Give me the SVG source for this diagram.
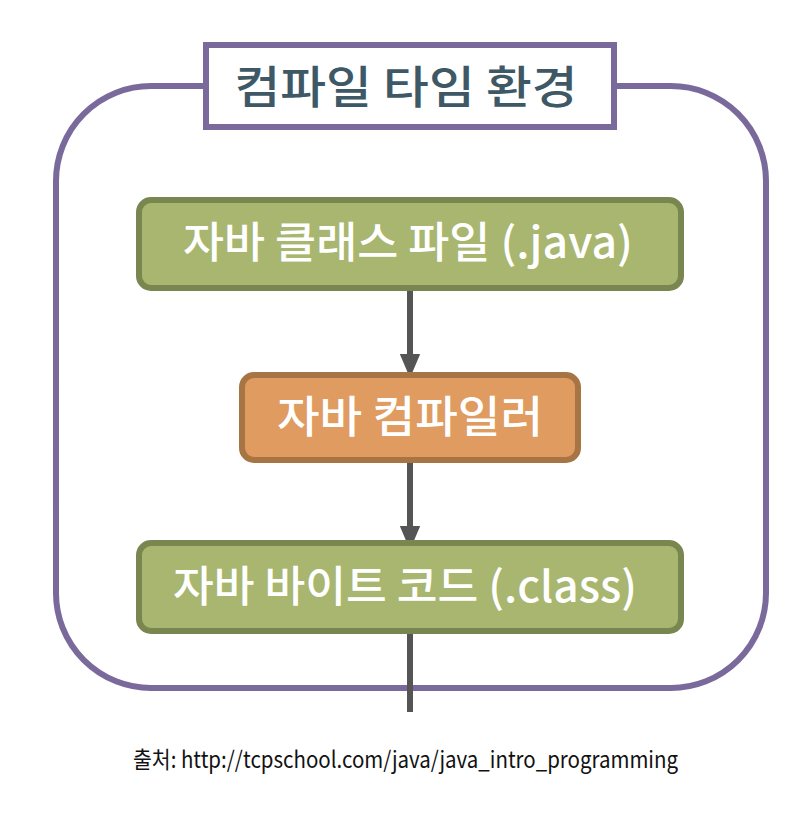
<svg xmlns="http://www.w3.org/2000/svg" width="796" height="814" viewBox="0 0 796 814">
<style>
.lbl{font-family:"Noto Sans CJK KR","Noto Sans",sans-serif;font-weight:500;fill:#ffffff;text-anchor:middle}
.green{fill:#a8b66f;stroke:#7a8650;stroke-width:6}
.orange{fill:#df9b60;stroke:#a77444;stroke-width:6}
.conn{stroke:#555555;stroke-width:6;fill:none}
</style>
<defs>
<marker id="ah" markerWidth="4" markerHeight="4" refX="2" refY="2" orient="auto" markerUnits="strokeWidth">
<path d="M0,0.3 L4,2 L0,3.7 Z" fill="#555555"/>
</marker>
</defs>
<rect width="796" height="814" fill="#ffffff"/>
<g id="frame">
<rect x="56" y="86" width="710" height="602" rx="95" ry="95" fill="none" stroke="#7a6a9c" stroke-width="6"/>
<rect x="206" y="45" width="408" height="82" fill="#ffffff" stroke="#7a6a9c" stroke-width="6"/>
<text x="406" y="104" font-family="'Noto Sans CJK KR','Noto Sans',sans-serif" font-size="45" font-weight="500" fill="#3e5866" text-anchor="middle" textLength="343" lengthAdjust="spacingAndGlyphs">컴파일 타임 환경</text>
</g>
<g id="connectors">
<line class="conn" x1="410" y1="290" x2="410" y2="366" marker-end="url(#ah)"/>
<line class="conn" x1="410" y1="462" x2="410" y2="538" marker-end="url(#ah)"/>
<line class="conn" x1="410" y1="633" x2="410" y2="712"/>
</g>
<g id="java-source">
<rect class="green" x="139" y="200" width="542" height="88" rx="12"/>
<text class="lbl" x="408" y="258" font-size="43" textLength="450" lengthAdjust="spacingAndGlyphs">자바 클래스 파일 (.java)</text>
</g>
<g id="compiler">
<rect class="orange" x="242" y="375" width="336" height="85" rx="12"/>
<text class="lbl" x="410" y="433" font-size="44" textLength="266" lengthAdjust="spacingAndGlyphs">자바 컴파일러</text>
</g>
<g id="bytecode">
<rect class="green" x="139" y="543" width="542" height="88" rx="12"/>
<text class="lbl" x="405" y="602" font-size="43" textLength="464" lengthAdjust="spacingAndGlyphs">자바 바이트 코드 (.class)</text>
</g>
<text x="133" y="768" font-family="'Noto Sans CJK KR','Noto Sans',sans-serif" font-size="23" fill="#111111" textLength="545" lengthAdjust="spacingAndGlyphs">출처: http://tcpschool.com/java/java_intro_programming</text>
</svg>
